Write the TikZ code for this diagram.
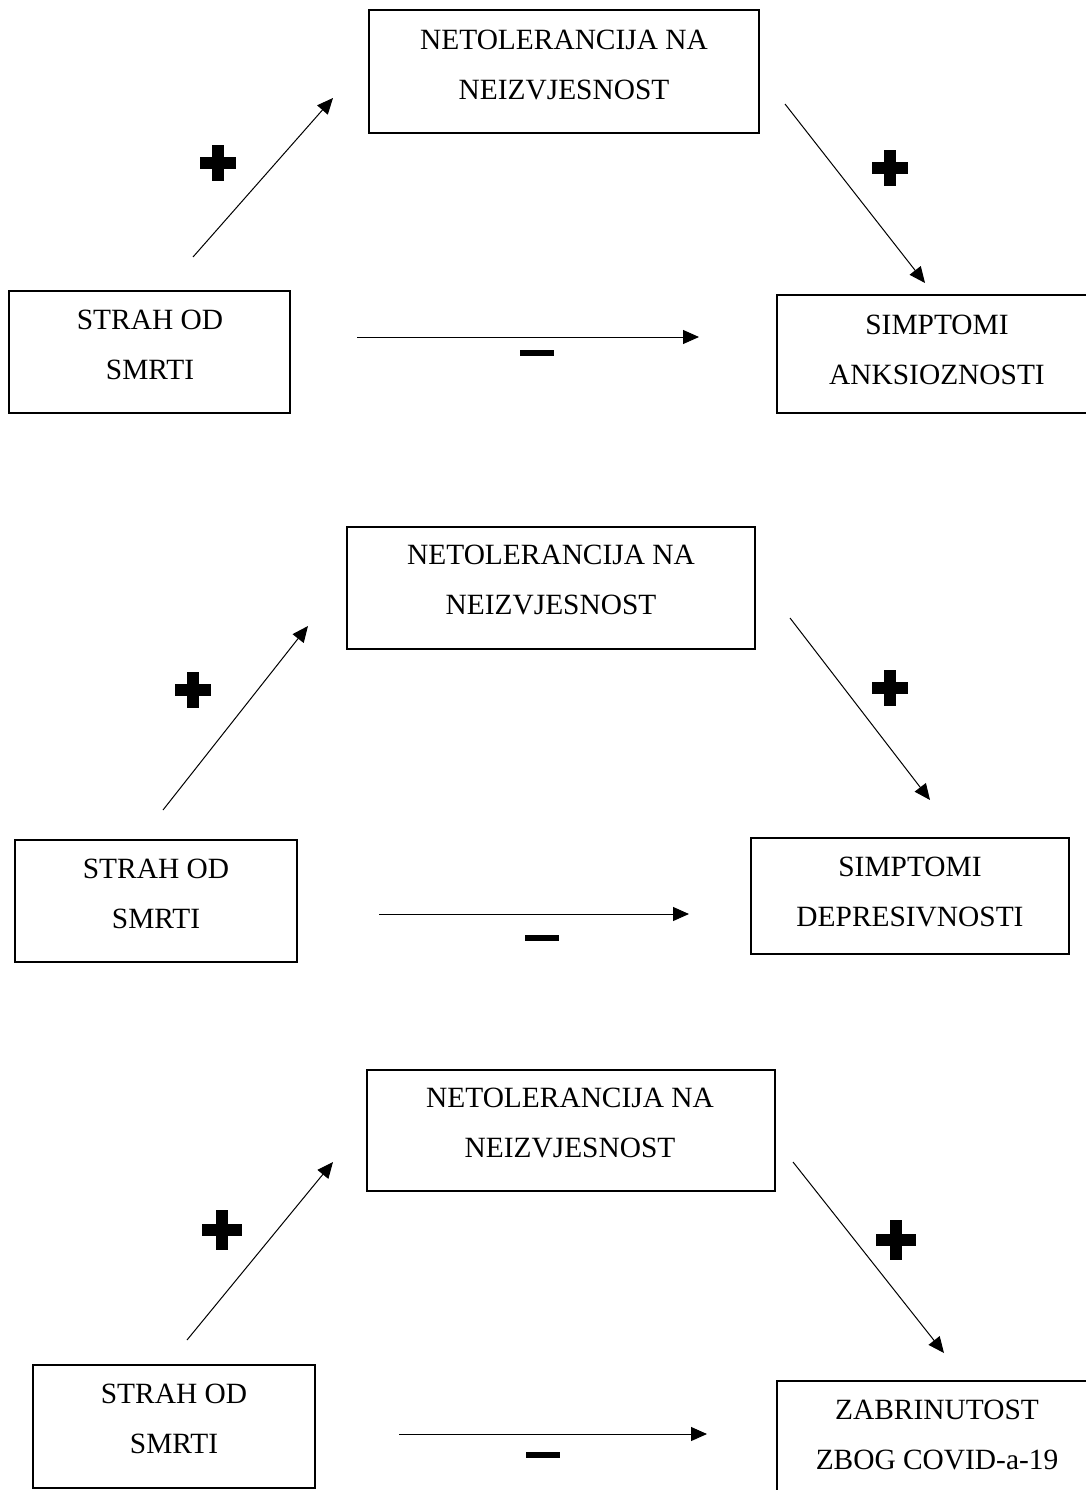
\documentclass[tikz,border=0pt]{standalone}
\usepackage{fontspec}
\setmainfont{Liberation Serif}
\usetikzlibrary{arrows.meta}
\tikzset{
  box/.style={draw, line width=1.2pt, rectangle, inner sep=0pt},
  lbl/.style={align=center, font=\fontsize{29.4}{50}\selectfont, inner sep=0pt},
  conn/.style={line width=1pt, -{Triangle[length=16pt,width=14pt]}},
  pics/plussign/.style={code={
    \fill (-#1,-5.8) rectangle (#1,5.8);
    \fill (-5.8,-#1) rectangle (5.8,#1);}},
  pics/minussign/.style={code={\fill (-17,-3.2) rectangle (17,3.2);}}
}
\begin{document}
\begin{tikzpicture}[x=1pt,y=-1pt]
\useasboundingbox (0,0) rectangle (1086,1490);
% ---------- Diagram 1 ----------
\node[box, minimum width=390pt, minimum height=123pt] (t1) at (564,71.5) {};
\node[lbl] (t1l) at (564,65) {NETOLERANCIJA NA\\NEIZVJESNOST};
\node[box, minimum width=281pt, minimum height=122pt] (l1) at (149.5,352) {};
\node[lbl] (l1l) at (150,345) {STRAH OD\\SMRTI};
\node[box, minimum width=330pt, minimum height=118pt] (r1) at (942,354) {};
\node[lbl] (r1l) at (937,350) {SIMPTOMI\\ANKSIOZNOSTI};
\coordinate (a1s) at (193,257); \coordinate (a1e) at (333,98);
\coordinate (b1s) at (785,104); \coordinate (b1e) at (925,283);
\coordinate (c1s) at (357,337); \coordinate (c1e) at (699,337);
\draw[conn] (a1s) -- (a1e);
\draw[conn] (b1s) -- (b1e);
\draw[conn] (c1s) -- (c1e);
\pic at (218,163) {plussign=18};
\pic at (890,168) {plussign=18};
\pic at (537,353) {minussign};
% ---------- Diagram 2 ----------
\node[box, minimum width=408pt, minimum height=122pt] (t2) at (551,588) {};
\node[lbl] (t2l) at (551,580) {NETOLERANCIJA NA\\NEIZVJESNOST};
\node[box, minimum width=282pt, minimum height=122pt] (l2) at (156,901) {};
\node[lbl] (l2l) at (156,894) {STRAH OD\\SMRTI};
\node[box, minimum width=318pt, minimum height=116pt] (r2) at (910,896) {};
\node[lbl] (r2l) at (910,892) {SIMPTOMI\\DEPRESIVNOSTI};
\coordinate (a2s) at (163,810); \coordinate (a2e) at (308,626);
\coordinate (b2s) at (790,618); \coordinate (b2e) at (930,800);
\coordinate (c2s) at (379,914); \coordinate (c2e) at (689,914);
\draw[conn] (a2s) -- (a2e);
\draw[conn] (b2s) -- (b2e);
\draw[conn] (c2s) -- (c2e);
\pic at (193,690) {plussign=18};
\pic at (890,688) {plussign=18};
\pic at (542,938) {minussign};
% ---------- Diagram 3 ----------
\node[box, minimum width=408pt, minimum height=121pt] (t3) at (571,1130.5) {};
\node[lbl] (t3l) at (570,1123) {NETOLERANCIJA NA\\NEIZVJESNOST};
\node[box, minimum width=282pt, minimum height=123pt] (l3) at (174,1426.5) {};
\node[lbl] (l3l) at (174,1419) {STRAH OD\\SMRTI};
\node[box, minimum width=330pt, minimum height=120pt] (r3) at (942,1441) {};
\node[lbl] (r3l) at (937,1435) {ZABRINUTOST\\ZBOG COVID-a-19};
\coordinate (a3s) at (187,1340); \coordinate (a3e) at (333,1162);
\coordinate (b3s) at (793,1162); \coordinate (b3e) at (944,1353);
\coordinate (c3s) at (399,1434); \coordinate (c3e) at (707,1434);
\draw[conn] (a3s) -- (a3e);
\draw[conn] (b3s) -- (b3e);
\draw[conn] (c3s) -- (c3e);
\pic at (222,1230) {plussign=20};
\pic at (896,1240) {plussign=20};
\pic at (543,1455) {minussign};
\end{tikzpicture}
\end{document}
